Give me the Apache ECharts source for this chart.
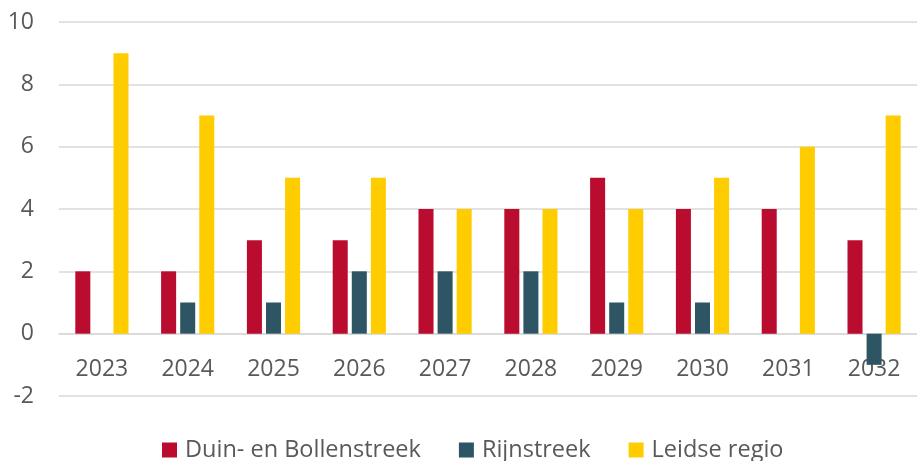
<!DOCTYPE html>
<html><head><meta charset="utf-8">
<script src="https://cdn.jsdelivr.net/npm/echarts@6/dist/echarts.min.js"></script>
<style>html,body{margin:0;padding:0;background:#fff}#c{width:917px;height:461px}</style>
</head><body><div id="c"></div>
<script>
const categories = ['2023','2024','2025','2026','2027','2028','2029','2030','2031','2032'];
const duinBollen = [2,2,3,3,4,4,5,4,4,3];
const rijnstreek = [0,1,1,2,2,2,1,1,0,-1];
const leidseRegio = [9,7,5,5,4,4,4,5,6,7];
const yTicks = {min:-2, max:10, interval:2};

const chart = echarts.init(document.getElementById('c'));
const font = '"Open Sans", sans-serif';
chart.setOption({
  animation:false,
  grid:{left:59, right:0, top:22, bottom:65, containLabel:false},
  legend:{top:438, left:162, padding:0, itemWidth:15, itemHeight:15, itemGap:38, icon:'rect',
    textStyle:{fontFamily:font, fontSize:23.5, color:'#595959', padding:[0,0,0,3]}},
  xAxis:{type:'category', data:categories, offset:-62.3,
    axisLine:{onZero:false, lineStyle:{color:'#d9d9d9', width:1.5}},
    axisTick:{show:false},
    axisLabel:{fontFamily:font, fontSize:23, color:'#595959', margin:24}},
  yAxis:{type:'value', min:yTicks.min, max:yTicks.max, interval:yTicks.interval,
    axisLine:{show:false}, axisTick:{show:false},
    splitLine:{lineStyle:{color:'#d9d9d9', width:1.5}},
    axisLabel:{fontFamily:font, fontSize:23, color:'#595959', margin:25}},
  series:[
    {name:'Duin- en Bollenstreek', type:'bar', data:duinBollen, barGap:'27%', barCategoryGap:'38%', itemStyle:{color:'#BA0C2F'}},
    {name:'Rijnstreek', type:'bar', data:rijnstreek, itemStyle:{color:'#2E5564'}},
    {name:'Leidse regio', type:'bar', data:leidseRegio, itemStyle:{color:'#FFCC00'}}
  ]
});
</script></body></html>
